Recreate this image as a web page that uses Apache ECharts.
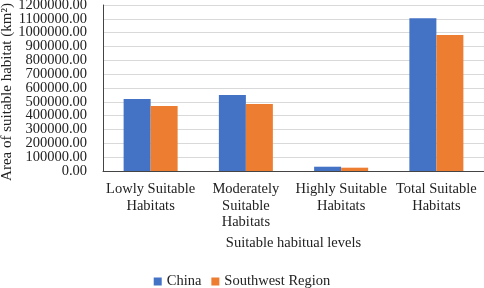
<!DOCTYPE html>
<html><head><meta charset="utf-8">
<script src="https://cdn.jsdelivr.net/npm/echarts@6/dist/echarts.min.js"></script>
<style>html,body{margin:0;padding:0;background:#fff}#c{width:484px;height:288px}</style>
</head><body><div id="c"></div>
<script>
const categories = ['Lowly Suitable\nHabitats', 'Moderately\nSuitable\nHabitats', 'Highly Suitable\nHabitats', 'Total Suitable\nHabitats'];
const chinaValues = [520000, 549000, 31000, 1104000];
const southwestValues = [470000, 484000, 24000, 983000];
const seriesNames = ['China', 'Southwest Region'];
const yTicksEven = [0, 200000, 400000, 600000, 800000, 1000000, 1200000];
const yTicksOdd = [100000, 300000, 500000, 700000, 900000, 1100000];
const yMin = 0, yMax = 1200000, yStep = 100000;

const font = 'Liberation Serif';
const fs = 14.5;
const labelBase = {margin: 16, fontFamily: font, fontSize: fs, color: '#222', showMinLabel: true, showMaxLabel: true, hideOverlap: false, formatter: v => v.toFixed(2)};
const chart = echarts.init(document.getElementById('c'));
chart.setOption({
  animation: false,
  textStyle: {fontFamily: font},
  grid: {left: 103, right: 0, top: 5, bottom: 117, containLabel: false, outerBoundsMode: 'none'},
  legend: {
    top: 269, left: 'center', itemWidth: 8, itemHeight: 8, itemGap: 10, icon: 'rect',
    textStyle: {fontFamily: font, fontSize: fs, color: '#222'},
    data: seriesNames
  },
  xAxis: {
    type: 'category', data: categories,
    name: 'Suitable habitual levels', nameLocation: 'middle', nameGap: 64,
    nameTextStyle: {fontFamily: font, fontSize: fs, color: '#222'},
    axisTick: {show: false},
    axisLine: {lineStyle: {color: '#444', width: 1}},
    axisLabel: {interval: 0, fontFamily: font, fontSize: fs, color: '#222', lineHeight: 16.5, margin: 10}
  },
  yAxis: [{
    type: 'value', min: yMin, max: yMax, interval: yStep, position: 'left',
    name: 'Area of suitable habitat (km²)', nameLocation: 'middle', nameGap: 88, nameMoveOverlap: false,
    nameTextStyle: {fontFamily: font, fontSize: 15, color: '#222', padding: [0, 8, 0, 0]},
    axisLine: {show: true, lineStyle: {color: '#444', width: 1}},
    axisTick: {show: false},
    splitLine: {lineStyle: {color: '#d9d9d9'}},
    axisLabel: Object.assign({customValues: yTicksEven}, labelBase)
  }, {
    type: 'value', min: yMin, max: yMax, interval: yStep, position: 'left', offset: 0,
    axisLine: {show: false}, axisTick: {show: false}, splitLine: {show: false},
    axisLabel: Object.assign({customValues: yTicksOdd}, labelBase)
  }],
  series: [
    {name: seriesNames[0], type: 'bar', data: chinaValues, barWidth: 27, barGap: '0%', itemStyle: {color: '#4472C4'}},
    {name: seriesNames[1], type: 'bar', data: southwestValues, barWidth: 27, barGap: '0%', itemStyle: {color: '#ED7D31'}}
  ]
});
</script></body></html>
